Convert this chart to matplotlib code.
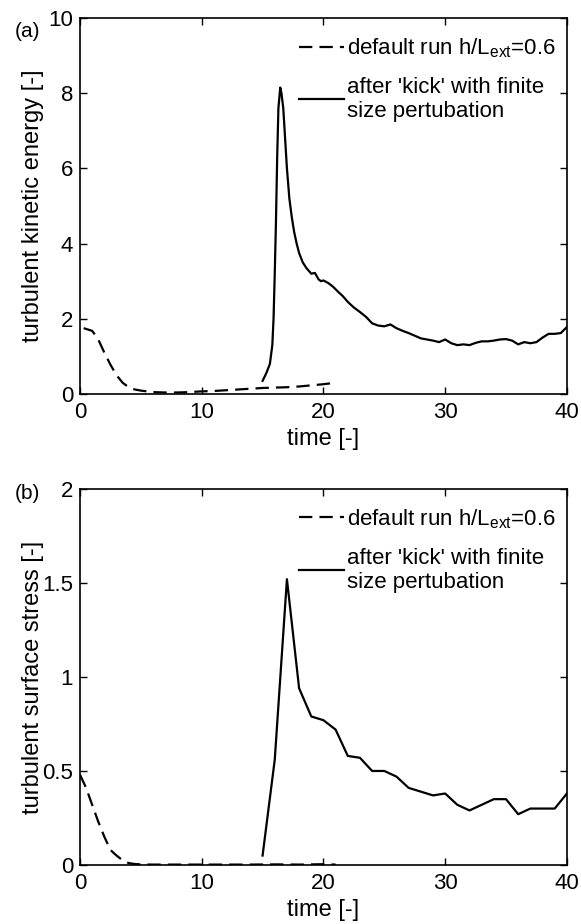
import matplotlib
matplotlib.use("Agg")
import matplotlib.pyplot as plt
import numpy as np

plt.rcParams["font.family"] = ["Liberation Sans", "DejaVu Sans"]
plt.rcParams["mathtext.fontset"] = "custom"
plt.rcParams["mathtext.rm"] = "Liberation Sans"
plt.rcParams["mathtext.it"] = "Liberation Sans"

# (a) turbulent kinetic energy
tke_default_t = [0.3, 1.0, 1.5, 2.0, 2.5, 3.0, 3.5, 4.0, 4.5, 5.0, 5.5, 6.0, 7.0, 8.0, 9.0,
                 10.0, 11.0, 12.0, 13.0, 14.0, 15.0, 16.0, 17.0, 18.0, 19.0, 20.0, 21.0]
tke_default_v = [1.75, 1.68, 1.45, 1.1, 0.78, 0.5, 0.3, 0.18, 0.12, 0.09, 0.07, 0.05, 0.04,
                 0.04, 0.05, 0.07, 0.08, 0.1, 0.12, 0.14, 0.16, 0.17, 0.18, 0.2, 0.23, 0.26, 0.3]

tke_kick_t = [15.0, 15.3, 15.6, 15.8, 15.9, 16.0, 16.1, 16.2, 16.3, 16.45, 16.55, 16.7,
              16.85, 17.0, 17.2, 17.4, 17.6, 17.8, 18.0, 18.3, 18.6, 19.0, 19.3, 19.6, 19.8,
              20.0, 20.4, 20.8, 21.2, 21.6, 22.0, 22.5, 23.0, 23.5, 24.0, 24.5, 25.0, 25.5,
              26.0, 26.5, 27.0, 27.5, 28.0, 28.5, 29.0, 29.5, 30.0, 30.5, 31.0, 31.5, 32.0,
              32.5, 33.0, 33.5, 34.0, 34.5, 35.0, 35.5, 36.0, 36.5, 37.0, 37.5, 38.0, 38.5,
              39.0, 39.5, 40.0]
tke_kick_v = [0.35, 0.55, 0.8, 1.3, 2.0, 3.2, 4.6, 6.3, 7.6, 8.15, 8.0, 7.6,
              6.8, 6.0, 5.2, 4.7, 4.3, 4.0, 3.75, 3.5, 3.35, 3.2, 3.22, 3.05, 3.0,
              3.02, 2.95, 2.85, 2.72, 2.6, 2.45, 2.3, 2.18, 2.05, 1.88, 1.82, 1.8, 1.85,
              1.75, 1.68, 1.62, 1.55, 1.48, 1.45, 1.42, 1.38, 1.45, 1.35, 1.3, 1.32, 1.3,
              1.36, 1.4, 1.4, 1.42, 1.45, 1.46, 1.42, 1.32, 1.38, 1.35, 1.38, 1.5, 1.6,
              1.6, 1.62, 1.78]

# (b) turbulent surface stress
tss_default_t = [0.0, 0.5, 1.0, 1.5, 2.0, 2.5, 3.0, 3.5, 4.0, 4.5, 5.0, 6.0, 8.0, 10.0,
                 12.0, 14.0, 16.0, 18.0, 20.0, 21.0]
tss_default_v = [0.48, 0.41, 0.32, 0.23, 0.15, 0.08, 0.05, 0.025, 0.01, 0.005, 0.003,
                 0.002, 0.002, 0.002, 0.002, 0.002, 0.003, 0.002, 0.004, 0.002]

tss_kick_t = [15, 16, 17, 18, 19, 20, 21, 22, 23, 24, 25, 26, 27, 28, 29, 30, 31, 32, 33,
              34, 35, 36, 37, 38, 39, 40]
tss_kick_v = [0.05, 0.56, 1.52, 0.94, 0.79, 0.77, 0.72, 0.58, 0.57, 0.5, 0.5, 0.47, 0.41,
              0.39, 0.37, 0.38, 0.32, 0.29, 0.32, 0.35, 0.35, 0.27, 0.3, 0.3, 0.3, 0.38]

legend_labels = ["default run h/L$_{\\rm ext}$=0.6",
                 "after 'kick' with finite\nsize pertubation"]

fig = plt.figure(figsize=(5.81, 9.24), dpi=100)
ax1 = fig.add_axes([0.1377, 0.5736, 0.838, 0.4069])
ax2 = fig.add_axes([0.1377, 0.0639, 0.838, 0.4069])

panels = [
    (ax1, tke_default_t, tke_default_v, tke_kick_t, tke_kick_v, 10, [0, 2, 4, 6, 8, 10],
     ["0", "2", "4", "6", "8", "10"], "turbulent kinetic energy [-]", "(a)", 0.963),
    (ax2, tss_default_t, tss_default_v, tss_kick_t, tss_kick_v, 2, [0, 0.5, 1, 1.5, 2],
     ["0", "0.5", "1", "1.5", "2"], "turbulent surface stress [-]", "(b)", 0.987),
]

for ax, dt, dv, kt, kv, ymax, yt, ytl, ylab, tag, tag_y in panels:
    ax.plot(dt, dv, color="black", lw=1.6, ls=(0, (6, 3.2)), label=legend_labels[0])
    ax.plot(kt, kv, color="black", lw=1.6, label=legend_labels[1])
    ax.set_xlim(0, 40)
    ax.set_ylim(0, ymax)
    ax.set_xticks([0, 10, 20, 30, 40])
    ax.set_yticks(yt)
    ax.set_yticklabels(ytl)
    ax.tick_params(direction="in", top=True, right=True, length=5, width=1,
                   labelsize=16)
    ax.tick_params(axis="x", pad=6)
    ax.tick_params(axis="y", pad=5)
    for s in ax.spines.values():
        s.set_linewidth(1.2)
    ax.set_xlabel("time [-]", fontsize=17, va="center")
    ax.xaxis.set_label_coords(0.5, -0.12)
    ax.set_ylabel(ylab, fontsize=17, va="center")
    ax.yaxis.set_label_coords(-0.0965, 0.5)
    ax.text(-0.107, tag_y, tag, transform=ax.transAxes, fontsize=15, ha="center", va="center")
    ax.legend(loc="upper right", bbox_to_anchor=(0.996, 0.975), frameon=False,
              fontsize=16, handlelength=2.0, handletextpad=0.15, labelspacing=0.75,
              borderaxespad=0)

fig.savefig("out.png", dpi=100)
